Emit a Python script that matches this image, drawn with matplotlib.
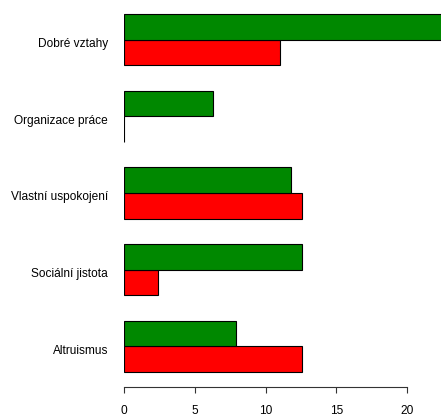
import matplotlib as mpl
import matplotlib.pyplot as plt
import matplotlib.transforms as mtransforms
import numpy as np

categories = ['Altruismus', 'Sociální jistota', 'Vlastní uspokojení',
              'Organizace práce', 'Dobré vztahy']
green_vals = [7.9, 12.6, 11.8, 6.3, 23.0]
red_vals = [12.6, 2.4, 12.6, 0.0, 11.0]
xticks = [0, 5, 10, 15, 20]

mpl.rcParams['font.family'] = ['Liberation Sans', 'DejaVu Sans']
mpl.rcParams['font.size'] = 8.6

W, H = 441, 417
PX = 14.15  # pixels per x unit
fig = plt.figure(figsize=(W / 100, H / 100), dpi=100)
# axes run past the right edge so the longest bar is cut by the figure
ax = fig.add_axes([124 / W, (H - 387) / H, (480 - 124) / W, 387 / H])

# two bars per group, one unit gap between groups
base = np.arange(len(categories)) * 3
ax.barh(base + 0.5, red_vals, height=1, color='#ff0000',
        edgecolor='black', linewidth=0.8)
ax.barh(base + 1.5, green_vals, height=1, color='#008800',
        edgecolor='black', linewidth=0.8)

ax.set_xlim(0, (480 - 124) / PX)
ax.set_ylim(-15 / 25.57, 14 + 14 / 25.57)

ax.set_yticks(base + 1)
ax.set_yticklabels(categories)
ax.tick_params(axis='y', length=0, pad=11.5)
shift = mtransforms.ScaledTranslation(0, -3 / 100, fig.dpi_scale_trans)
for lab in ax.get_yticklabels():
    lab.set_transform(lab.get_transform() + shift)

ax.set_xticks(xticks)
ax.tick_params(axis='x', length=4.5, width=0.8, color='#333333', pad=8.5)

for s in ['top', 'right', 'left']:
    ax.spines[s].set_visible(False)
ax.spines['bottom'].set_bounds(0, 20)
ax.spines['bottom'].set_linewidth(0.8)
ax.spines['bottom'].set_color('#333333')

plt.savefig('out.png', dpi=100)
